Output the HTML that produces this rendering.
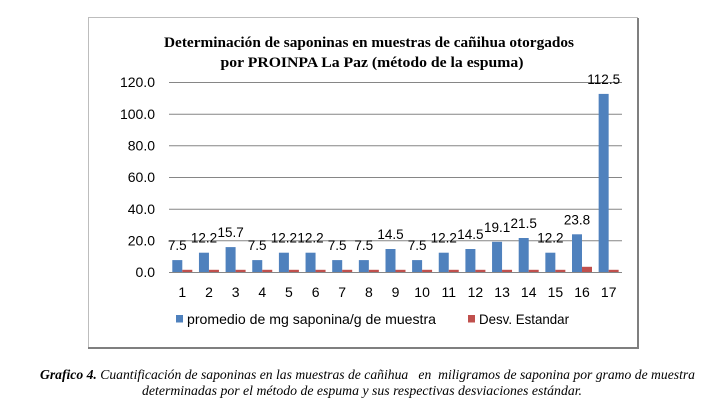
<!DOCTYPE html>
<html>
<head>
<meta charset="utf-8">
<style>
  html,body{margin:0;padding:0;background:#fff;}
  svg{display:block;}
</style>
</head>
<body>
<svg width="712" height="409" viewBox="0 0 712 409" xmlns="http://www.w3.org/2000/svg">
  <rect x="0" y="0" width="712" height="409" fill="#fff"/>
  <!-- frame -->
  <rect x="88.5" y="17.5" width="549" height="330" fill="#fff" stroke="#bdbdbd" stroke-width="1"/>
  <line x1="638" y1="18" x2="638" y2="348.5" stroke="#7f7f7f" stroke-width="2"/>
  <line x1="88" y1="348" x2="639" y2="348" stroke="#7f7f7f" stroke-width="2"/>

  <!-- title -->
  <g font-family="'Liberation Serif', serif" font-weight="bold" font-size="15" fill="#000" text-anchor="middle">
    <text x="369" y="47" textLength="410" lengthAdjust="spacingAndGlyphs">Determinación de saponinas en muestras de cañihua otorgados</text>
    <text x="372" y="67" textLength="303" lengthAdjust="spacingAndGlyphs">por PROINPA La Paz (método de la espuma)</text>
  </g>

  <!-- gridlines -->
  <g stroke="#868686" stroke-width="1">
    <line x1="169" y1="82.5" x2="622" y2="82.5"/>
    <line x1="169" y1="114.2" x2="622" y2="114.2"/>
    <line x1="169" y1="145.8" x2="622" y2="145.8"/>
    <line x1="169" y1="177.5" x2="622" y2="177.5"/>
    <line x1="169" y1="209.2" x2="622" y2="209.2"/>
    <line x1="169" y1="240.8" x2="622" y2="240.8"/>
    <line x1="169" y1="272.5" x2="622" y2="272.5"/>
  </g>

  <!-- y tick labels -->
  <g font-family="'Liberation Sans', sans-serif" font-size="14" fill="#000" text-anchor="end">
    <text x="155" y="87">120.0</text>
    <text x="155" y="119">100.0</text>
    <text x="155" y="150.5">80.0</text>
    <text x="155" y="182">60.0</text>
    <text x="155" y="214">40.0</text>
    <text x="155" y="245.5">20.0</text>
    <text x="155" y="277">0.0</text>
  </g>

  <!-- blue bars -->
  <g fill="#4F81BD">
    <rect x="172.3" y="260.1" width="10" height="11.9"/>
    <rect x="198.95" y="252.7" width="10" height="19.3"/>
    <rect x="225.6" y="247.1" width="10" height="24.9"/>
    <rect x="252.25" y="260.1" width="10" height="11.9"/>
    <rect x="278.9" y="252.7" width="10" height="19.3"/>
    <rect x="305.55" y="252.7" width="10" height="19.3"/>
    <rect x="332.2" y="260.1" width="10" height="11.9"/>
    <rect x="358.85" y="260.1" width="10" height="11.9"/>
    <rect x="385.5" y="249.0" width="10" height="23.0"/>
    <rect x="412.1" y="260.1" width="10" height="11.9"/>
    <rect x="438.75" y="252.7" width="10" height="19.3"/>
    <rect x="465.4" y="249.0" width="10" height="23.0"/>
    <rect x="492.05" y="241.8" width="10" height="30.2"/>
    <rect x="518.7" y="238.0" width="10" height="34.0"/>
    <rect x="545.35" y="252.7" width="10" height="19.3"/>
    <rect x="572.0" y="234.3" width="10" height="37.7"/>
    <rect x="598.65" y="93.9" width="10" height="178.1"/>
  </g>

  <!-- red bars -->
  <g fill="#C0504D">
    <rect x="182.3" y="269.8" width="10" height="2.2"/>
    <rect x="208.95" y="269.8" width="10" height="2.2"/>
    <rect x="235.6" y="269.8" width="10" height="2.2"/>
    <rect x="262.25" y="269.8" width="10" height="2.2"/>
    <rect x="288.9" y="269.8" width="10" height="2.2"/>
    <rect x="315.55" y="269.8" width="10" height="2.2"/>
    <rect x="342.2" y="269.8" width="10" height="2.2"/>
    <rect x="368.85" y="269.8" width="10" height="2.2"/>
    <rect x="395.5" y="269.8" width="10" height="2.2"/>
    <rect x="422.1" y="269.8" width="10" height="2.2"/>
    <rect x="448.75" y="269.8" width="10" height="2.2"/>
    <rect x="475.4" y="269.8" width="10" height="2.2"/>
    <rect x="502.05" y="269.8" width="10" height="2.2"/>
    <rect x="528.7" y="269.8" width="10" height="2.2"/>
    <rect x="555.35" y="269.8" width="10" height="2.2"/>
    <rect x="582.0" y="266.8" width="10" height="5.2"/>
    <rect x="608.65" y="269.8" width="10" height="2.2"/>
  </g>

  <!-- axis line -->
  <line x1="169" y1="272.5" x2="622" y2="272.5" stroke="#868686" stroke-width="1"/>

  <!-- data labels -->
  <g font-family="'Liberation Sans', sans-serif" font-size="13.5" fill="#000" text-anchor="middle">
    <text x="177.3" y="250.1">7.5</text>
    <text x="204" y="242.7">12.2</text>
    <text x="230.6" y="237.1">15.7</text>
    <text x="257.2" y="250.1">7.5</text>
    <text x="283.9" y="242.7">12.2</text>
    <text x="310.5" y="242.7">12.2</text>
    <text x="337.2" y="250.1">7.5</text>
    <text x="363.8" y="250.1">7.5</text>
    <text x="390.5" y="239">14.5</text>
    <text x="417.1" y="250.1">7.5</text>
    <text x="443.8" y="242.7">12.2</text>
    <text x="470.4" y="239">14.5</text>
    <text x="497.1" y="231.8">19.1</text>
    <text x="523.7" y="228">21.5</text>
    <text x="550.4" y="242.7">12.2</text>
    <text x="577" y="224.3">23.8</text>
    <text x="603.7" y="83.9">112.5</text>
  </g>

  <!-- x labels -->
  <g font-family="'Liberation Sans', sans-serif" font-size="14" fill="#000" text-anchor="middle">
    <text x="182.3" y="297">1</text>
    <text x="209" y="297">2</text>
    <text x="235.6" y="297">3</text>
    <text x="262.3" y="297">4</text>
    <text x="288.9" y="297">5</text>
    <text x="315.6" y="297">6</text>
    <text x="342.2" y="297">7</text>
    <text x="368.9" y="297">8</text>
    <text x="395.5" y="297">9</text>
    <text x="422.1" y="297">10</text>
    <text x="448.8" y="297">11</text>
    <text x="475.4" y="297">12</text>
    <text x="502.1" y="297">13</text>
    <text x="528.7" y="297">14</text>
    <text x="555.4" y="297">15</text>
    <text x="582" y="297">16</text>
    <text x="608.7" y="297">17</text>
  </g>

  <!-- legend -->
  <rect x="176" y="315" width="7" height="7.5" fill="#4F81BD"/>
  <rect x="468" y="315" width="7" height="7.5" fill="#C0504D"/>
  <g font-family="'Liberation Sans', sans-serif" font-size="14" fill="#000">
    <text x="187" y="324" textLength="249" lengthAdjust="spacingAndGlyphs">promedio de mg saponina/g de muestra</text>
    <text x="479" y="324" textLength="90" lengthAdjust="spacingAndGlyphs">Desv. Estandar</text>
  </g>

  <!-- caption -->
  <g font-family="'Liberation Serif', serif" font-style="italic" font-size="14" fill="#000">
    <text x="40" y="379" textLength="655" lengthAdjust="spacingAndGlyphs" xml:space="preserve"><tspan font-weight="bold">Grafico 4.</tspan> Cuantificación de saponinas en las muestras de cañihua   en  miligramos de saponina por gramo de muestra</text>
    <text x="142" y="395" textLength="440" lengthAdjust="spacingAndGlyphs">determinadas por el método de espuma y sus respectivas desviaciones estándar.</text>
  </g>
</svg>
</body>
</html>
